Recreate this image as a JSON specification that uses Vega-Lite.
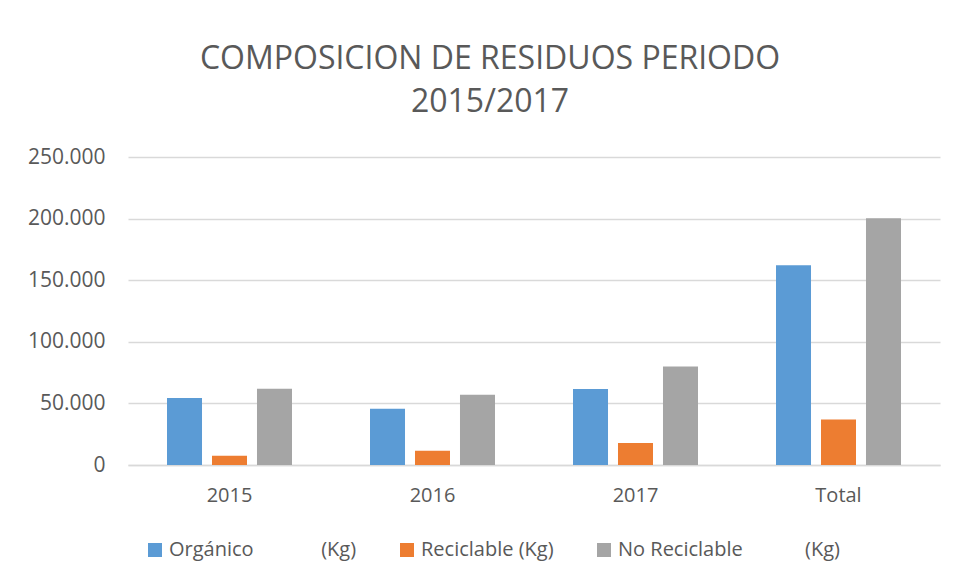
{
  "$schema": "https://vega.github.io/schema/vega-lite/v6.json",
  "autosize": "none",
  "width": 812,
  "height": 308,
  "padding": {"left": 128, "top": 157, "right": 17, "bottom": 118},
  "background": "white",
  "title": {
    "text": ["COMPOSICION DE RESIDUOS PERIODO", "2015/2017"],
    "font": "Open Sans",
    "fontSize": 32,
    "fontWeight": "normal",
    "color": "#595959",
    "lineHeight": 43,
    "anchor": "middle",
    "dx": -44,
    "offset": 27
  },
  "data": {
    "values": [
      {"periodo": "2015", "serie": "Orgánico\u00a0\u00a0\u00a0\u00a0\u00a0\u00a0\u00a0\u00a0\u00a0\u00a0\u00a0\u00a0\u00a0(Kg)", "kg": 54300},
      {"periodo": "2015", "serie": "Reciclable (Kg)", "kg": 7500},
      {"periodo": "2015", "serie": "No Reciclable\u00a0\u00a0\u00a0\u00a0\u00a0\u00a0\u00a0\u00a0\u00a0\u00a0\u00a0\u00a0(Kg)", "kg": 61800},
      {"periodo": "2016", "serie": "Orgánico\u00a0\u00a0\u00a0\u00a0\u00a0\u00a0\u00a0\u00a0\u00a0\u00a0\u00a0\u00a0\u00a0(Kg)", "kg": 45600},
      {"periodo": "2016", "serie": "Reciclable (Kg)", "kg": 11600},
      {"periodo": "2016", "serie": "No Reciclable\u00a0\u00a0\u00a0\u00a0\u00a0\u00a0\u00a0\u00a0\u00a0\u00a0\u00a0\u00a0(Kg)", "kg": 57000},
      {"periodo": "2017", "serie": "Orgánico\u00a0\u00a0\u00a0\u00a0\u00a0\u00a0\u00a0\u00a0\u00a0\u00a0\u00a0\u00a0\u00a0(Kg)", "kg": 61600},
      {"periodo": "2017", "serie": "Reciclable (Kg)", "kg": 17800},
      {"periodo": "2017", "serie": "No Reciclable\u00a0\u00a0\u00a0\u00a0\u00a0\u00a0\u00a0\u00a0\u00a0\u00a0\u00a0\u00a0(Kg)", "kg": 79900},
      {"periodo": "Total", "serie": "Orgánico\u00a0\u00a0\u00a0\u00a0\u00a0\u00a0\u00a0\u00a0\u00a0\u00a0\u00a0\u00a0\u00a0(Kg)", "kg": 162100},
      {"periodo": "Total", "serie": "Reciclable (Kg)", "kg": 37000},
      {"periodo": "Total", "serie": "No Reciclable\u00a0\u00a0\u00a0\u00a0\u00a0\u00a0\u00a0\u00a0\u00a0\u00a0\u00a0\u00a0(Kg)", "kg": 200200}
    ]
  },
  "mark": {"type": "bar"},
  "encoding": {
    "x": {
      "field": "periodo",
      "type": "nominal",
      "sort": ["2015", "2016", "2017", "Total"],
      "scale": {"paddingInner": 0, "paddingOuter": 0},
      "axis": {
        "title": null,
        "labelAngle": 0,
        "labelFont": "Open Sans",
        "labelFontSize": 20,
        "labelColor": "#595959",
        "labelPadding": 20,
        "ticks": false,
        "domainColor": "#d9d9d9",
        "domainWidth": 1.5,
        "grid": false
      }
    },
    "xOffset": {
      "field": "serie",
      "type": "nominal",
      "sort": ["Orgánico\u00a0\u00a0\u00a0\u00a0\u00a0\u00a0\u00a0\u00a0\u00a0\u00a0\u00a0\u00a0\u00a0(Kg)", "Reciclable (Kg)", "No Reciclable\u00a0\u00a0\u00a0\u00a0\u00a0\u00a0\u00a0\u00a0\u00a0\u00a0\u00a0\u00a0(Kg)"],
      "scale": {"paddingInner": 0.222, "paddingOuter": 0.867}
    },
    "y": {
      "field": "kg",
      "type": "quantitative",
      "scale": {"domain": [0, 250000]},
      "axis": {
        "title": null,
        "values": [0, 50000, 100000, 150000, 200000, 250000],
        "labelExpr": "replace(format(datum.value, ','), ',', '.')",
        "labelFont": "Open Sans",
        "labelFontSize": 21,
        "labelColor": "#595959",
        "labelPadding": 23,
        "ticks": false,
        "domain": false,
        "grid": true,
        "gridColor": "#d9d9d9",
        "gridWidth": 1.5
      }
    },
    "color": {
      "field": "serie",
      "type": "nominal",
      "sort": ["Orgánico\u00a0\u00a0\u00a0\u00a0\u00a0\u00a0\u00a0\u00a0\u00a0\u00a0\u00a0\u00a0\u00a0(Kg)", "Reciclable (Kg)", "No Reciclable\u00a0\u00a0\u00a0\u00a0\u00a0\u00a0\u00a0\u00a0\u00a0\u00a0\u00a0\u00a0(Kg)"],
      "scale": {"range": ["#5b9bd5", "#ed7d31", "#a5a5a5"]},
      "legend": {
        "title": null,
        "orient": "none",
        "direction": "horizontal",
        "legendX": 17,
        "legendY": 383,
        "symbolType": "square",
        "symbolSize": 196,
        "symbolStrokeWidth": 0,
        "symbolOpacity": 1,
        "labelFont": "Open Sans",
        "labelFontSize": 20,
        "labelColor": "#595959",
        "labelOffset": 4,
        "labelLimit": 400,
        "columnPadding": 40
      }
    }
  },
  "config": {
    "view": {"stroke": null}
  }
}
